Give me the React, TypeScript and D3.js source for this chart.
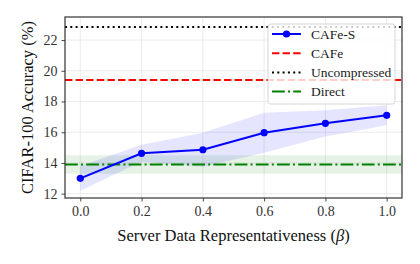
import React, { useRef, useEffect } from 'react';
import * as d3 from 'd3';

// CIFAR-100 accuracy vs server data representativeness
const betas = [0.0, 0.2, 0.4, 0.6, 0.8, 1.0];
const cafeS = [13.0, 14.63, 14.86, 15.97, 16.58, 17.1];
const cafeSStd = [0.8, 0.55, 1.1, 1.3, 0.85, 0.65];
const cafeValue = 19.4;
const uncompressedValue = 22.85;
const directValue = 13.9;
const directStd = 0.6;
const xTicks = [0.0, 0.2, 0.4, 0.6, 0.8, 1.0];
const yTicks = [12, 14, 16, 18, 20, 22];

const W = 420;
const H = 264;
const margin = { left: 65, right: 18, top: 17, bottom: 66 };
const font = 'Liberation Serif, Times New Roman, DejaVu Serif, serif';

const App = () => {
  const svgRef = useRef<SVGSVGElement>(null);

  useEffect(() => {
    const svg = d3.select(svgRef.current);
    svg.selectAll('*').remove();

    const x = d3.scaleLinear().domain([-0.05, 1.05]).range([margin.left, W - margin.right]);
    const y = d3.scaleLinear().domain([11.72, 23.5]).range([H - margin.bottom, margin.top]);
    const [x0, x1] = x.range();
    const [y0, y1] = y.range();

    svg.append('rect').attr('width', W).attr('height', H).attr('fill', '#fff');

    // grid
    const grid = svg.append('g').attr('stroke', '#e6e6e6').attr('stroke-width', 0.8);
    xTicks.forEach((t) => grid.append('line').attr('x1', x(t)).attr('x2', x(t)).attr('y1', y1).attr('y2', y0));
    yTicks.forEach((t) => grid.append('line').attr('x1', x0).attr('x2', x1).attr('y1', y(t)).attr('y2', y(t)));

    // direct band
    svg.append('rect')
      .attr('x', x0).attr('width', x1 - x0)
      .attr('y', y(directValue + directStd))
      .attr('height', y(directValue - directStd) - y(directValue + directStd))
      .attr('fill', 'green').attr('fill-opacity', 0.1);

    // CAFe-S band
    const area = d3.area<number>()
      .x((_, i) => x(betas[i]))
      .y0((d, i) => y(d - cafeSStd[i]))
      .y1((d, i) => y(d + cafeSStd[i]));
    svg.append('path').datum(cafeS).attr('d', area)
      .attr('fill', 'blue').attr('fill-opacity', 0.1);

    const hline = (v: number, color: string, dash: string) =>
      svg.append('line').attr('x1', x0).attr('x2', x1).attr('y1', y(v)).attr('y2', y(v))
        .attr('stroke', color).attr('stroke-width', 2).attr('stroke-dasharray', dash);

    hline(cafeValue, 'red', '7.4,3.2');
    hline(uncompressedValue, 'black', '2,3.3');
    hline(directValue, 'green', '12.8,3.2,2,3.2');

    const line = d3.line<number>().x((_, i) => x(betas[i])).y((d) => y(d));
    svg.append('path').datum(cafeS).attr('d', line)
      .attr('fill', 'none').attr('stroke', 'blue').attr('stroke-width', 2);
    svg.append('g').selectAll('circle').data(cafeS).join('circle')
      .attr('cx', (_, i) => x(betas[i])).attr('cy', (d) => y(d)).attr('r', 3.6).attr('fill', 'blue');

    // axes
    const xAxis = svg.append('g').attr('transform', `translate(0,${y0})`)
      .call(d3.axisBottom(x).tickValues(xTicks).tickFormat(d3.format('.1f')).tickSize(3.5).tickPadding(5));
    const yAxis = svg.append('g').attr('transform', `translate(${x0},0)`)
      .call(d3.axisLeft(y).tickValues(yTicks).tickSize(3.5).tickPadding(4));
    [xAxis, yAxis].forEach((a) => {
      a.attr('font-family', null).attr('font-size', null);
      a.select('.domain').remove();
      a.selectAll('line').attr('stroke', '#333').attr('stroke-width', 0.9);
      a.selectAll('text').style('font-family', font).style('font-size', '14px').attr('fill', '#333');
    });

    // frame
    svg.append('rect').attr('x', x0).attr('y', y1).attr('width', x1 - x0).attr('height', y0 - y1)
      .attr('fill', 'none').attr('stroke', '#333').attr('stroke-width', 1.2);

    const xl = svg.append('text').attr('x', (x0 + x1) / 2).attr('y', 241).attr('text-anchor', 'middle')
      .style('font-family', font).style('font-size', '16.5px').attr('fill', '#111');
    xl.append('tspan').text('Server Data Representativeness (');
    xl.append('tspan').attr('font-style', 'italic').text('β');
    xl.append('tspan').text(')');

    svg.append('text').attr('transform', `translate(33,${(y0 + y1) / 2}) rotate(-90)`)
      .attr('text-anchor', 'middle').style('font-family', font).style('font-size', '16.5px').attr('fill', '#111')
      .text('CIFAR-100 Accuracy (%)');

    // legend
    const lg = svg.append('g').attr('transform', 'translate(268,24)');
    lg.append('rect').attr('width', 127).attr('height', 80).attr('rx', 2.5)
      .attr('fill', '#fff').attr('fill-opacity', 0.8).attr('stroke', '#ccc').attr('stroke-width', 0.8);
    const items = [
      { label: 'CAFe-S', color: 'blue', dash: 'none', marker: true },
      { label: 'CAFe', color: 'red', dash: '7.4,3.2', marker: false },
      { label: 'Uncompressed', color: 'black', dash: '2,3.3', marker: false },
      { label: 'Direct', color: 'green', dash: '12.8,3.2,2,3.2', marker: false },
    ];
    items.forEach((it, i) => {
      const cy = 10 + i * 19.2;
      lg.append('line').attr('x1', 4).attr('x2', 33).attr('y1', cy).attr('y2', cy)
        .attr('stroke', it.color).attr('stroke-width', 2).attr('stroke-dasharray', it.dash);
      if (it.marker) lg.append('circle').attr('cx', 18.5).attr('cy', cy).attr('r', 3.6).attr('fill', it.color);
      lg.append('text').attr('x', 43).attr('y', cy).attr('dy', '0.35em')
        .style('font-family', font).style('font-size', '13.5px').attr('fill', '#222').text(it.label);
    });
  }, []);

  return <svg ref={svgRef} width={W} height={H} style={{ display: 'block', margin: '-8px' }}></svg>;
};

export default App;
